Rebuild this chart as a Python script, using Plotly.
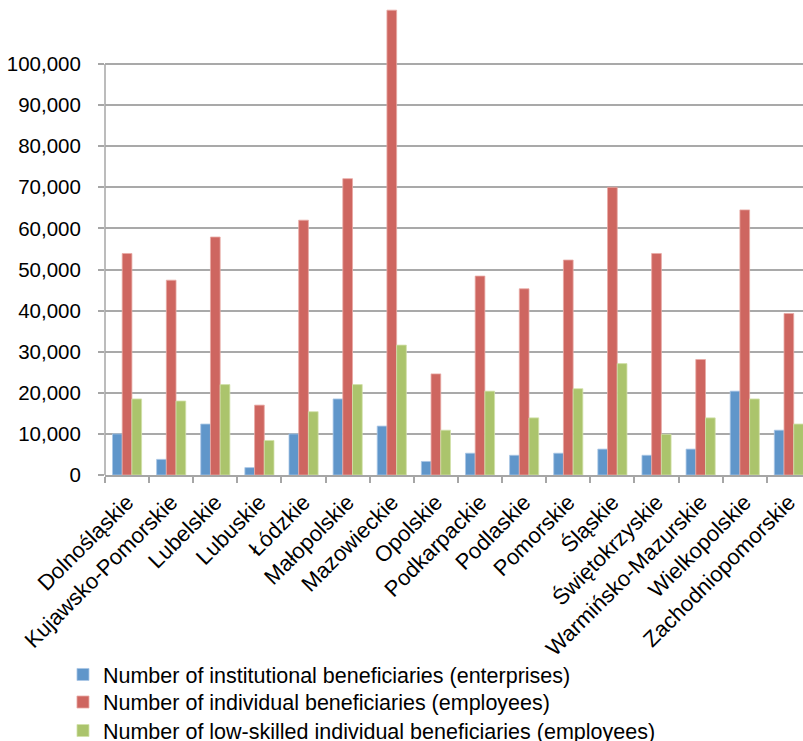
import plotly.graph_objects as go

# Regions (voivodeships) on the category axis
regions = [
    "Dolnośląskie", "Kujawsko-Pomorskie", "Lubelskie", "Lubuskie", "Łódzkie",
    "Małopolskie", "Mazowieckie", "Opolskie", "Podkarpackie", "Podlaskie",
    "Pomorskie", "Śląskie", "Świętokrzyskie", "Warmińsko-Mazurskie",
    "Wielkopolskie", "Zachodniopomorskie",
]

# Series values per region
institutional = [10000, 3800, 12400, 1800, 10000, 18500, 11900, 3300,
                 5300, 4800, 5300, 6300, 4800, 6300, 20400, 10900]
individual = [53900, 47400, 57900, 17000, 62000, 72100, 113100, 24600,
              48400, 45300, 52300, 70000, 53900, 28100, 64500, 39300]
low_skilled = [18500, 18000, 22000, 8400, 15400, 22000, 31600, 10900,
               20400, 13900, 21000, 27100, 9900, 13900, 18500, 12400]

series_names = [
    "Number of institutional beneficiaries (enterprises)",
    "Number of individual beneficiaries (employees)",
    "Number of low-skilled individual beneficiaries (employees)",
]

y_ticks = list(range(0, 100001, 10000))

colors = ["#6096CA", "#CE6660", "#ABC46C"]
edge_colors = ["#A9C6E6", "#E9A9A5", "#D2E1AA"]

FONT = "Liberation Sans, Arial, sans-serif"

# One legend box per series, stacked below the category labels
legend_ids = ["legend", "legend2", "legend3"]
legend_y = [-0.42, -0.478, -0.538]

fig = go.Figure()
for i, (name, vals) in enumerate(zip(series_names, [institutional, individual, low_skilled])):
    fig.add_trace(go.Bar(
        x=regions,
        y=vals,
        name=name,
        legend=legend_ids[i],
        marker=dict(color=colors[i], line=dict(color=edge_colors[i], width=0.8)),
    ))

legend_style = dict(
    orientation="v",
    x=-0.0602,
    xanchor="left",
    yanchor="middle",
    font=dict(family=FONT, size=21.5, color="#000000"),
    bgcolor="rgba(0,0,0,0)",
    borderwidth=0,
    itemclick=False,
    itemdoubleclick=False,
)

fig.update_layout(
    width=803,
    height=741,
    margin=dict(l=105, r=0, t=0, b=266, autoexpand=False),
    paper_bgcolor="white",
    plot_bgcolor="white",
    barmode="group",
    bargap=0.34,
    bargroupgap=0,
    font=dict(family=FONT, size=20, color="#000000"),
    showlegend=True,
    legend=dict(legend_style, y=legend_y[0]),
    legend2=dict(legend_style, y=legend_y[1]),
    legend3=dict(legend_style, y=legend_y[2]),
    xaxis=dict(
        type="category",
        range=[-0.5, 15.32],
        automargin=False,
        tickangle=-45,
        tickson="boundaries",
        ticks="outside",
        ticklen=6,
        tickcolor="#A6A6A6",
        tickwidth=1.5,
        ticklabelstandoff=4,
        showline=True,
        linecolor="#A6A6A6",
        linewidth=1.5,
        showgrid=False,
        tickfont=dict(family=FONT, size=22, color="#000000"),
    ),
    yaxis=dict(
        range=[0, 115570],
        automargin=False,
        tickvals=y_ticks,
        tickformat=",",
        ticks="outside",
        ticklen=6,
        tickcolor="#A6A6A6",
        tickwidth=1.5,
        ticklabelstandoff=13,
        showline=False,
        showgrid=True,
        gridcolor="#A9A9A9",
        gridwidth=1.5,
        zeroline=False,
        tickfont=dict(family=FONT, size=20.5, color="#000000"),
    ),
)

# Vertical axis line stops at the top tick
fig.add_shape(type="line", xref="paper", yref="y", x0=0, x1=0,
              y0=0, y1=y_ticks[-1], line=dict(color="#A6A6A6", width=1.5),
              layer="below")

fig.write_html("out.html")
